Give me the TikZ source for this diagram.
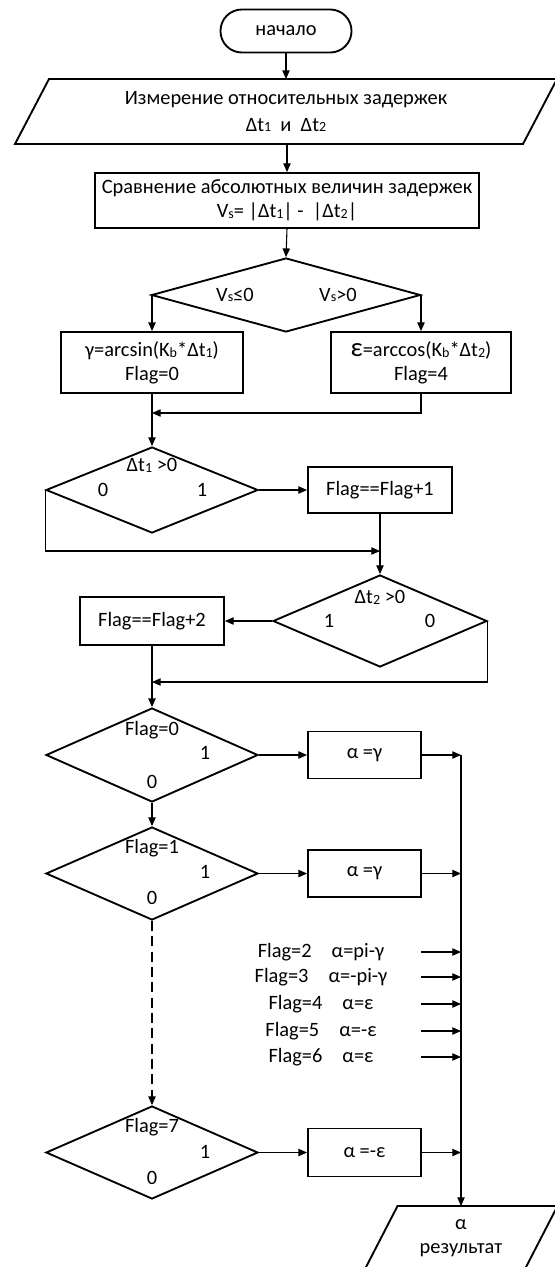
\documentclass[tikz,border=0pt]{standalone}
\usepackage{fontspec}
\setmainfont{Carlito}
\usetikzlibrary{arrows.meta,shapes.geometric,calc}

% small lowered index letters (t1, Vs, Kb)
\newcommand\sbs[1]{\raisebox{-0.6pt}{\fontsize{10.5}{10.5}\selectfont #1}}
% enlarged epsilon used in the arccos box
\newcommand\epsbig{{\fontsize{20}{20}\selectfont ε}}

\begin{document}
\begin{tikzpicture}[x=0.75pt,y=-0.75pt,
  font=\fontsize{15.3}{18}\selectfont,
  bw/.style={minimum width=#1*0.75pt},
  bh/.style={minimum height=#1*0.75pt},
  shp/.style={draw, line width=1.4pt},
  term/.style={shp, rectangle, rounded corners=16pt, inner sep=0pt},
  box/.style={shp, rectangle, inner sep=0pt, align=center},
  dia/.style={shp, diamond, inner sep=0pt},
  paratext/.style={rectangle, inner sep=0pt, outer sep=0pt, align=center},
  lbl/.style={inner sep=1pt},
  con/.style={line width=0.8pt},
  arr/.style={con, -{Triangle[length=6.5pt,width=5.5pt]}}]

\useasboundingbox (0,0) rectangle (555,1267);
\clip (0,0) rectangle (555,1267);

% start
\node[term, bw=131, bh=43] (start) at (286,31) {начало};

% input of delays
\node[paratext, bw=508, bh=65, font=\fontsize{15.3}{20.25}\selectfont] (inp) at (286,111.5)
  {Измерение относительных задержек\\Δt\sbs{1}\ \ и\ \ Δt\sbs{2}};
\draw[shp] ($(inp.south west)+(-17,0)$) -- ($(inp.north west)+(17,0)$)
  -- ($(inp.north east)+(17,0)$) -- ($(inp.south east)+(-17,0)$) -- cycle;

% comparison
\node[box, bw=384, bh=55] (cmp) at (287,200.5)
  {Сравнение абсолютных величин задержек\\V\sbs{s}= |Δt\sbs{1}| -\ \ |Δt\sbs{2}|};

\node[dia, bw=269, bh=74] (d1) at (286,295) {};
\node[lbl] (d1l) at (235,295) {V\sbs{s}≤0};
\node[lbl] (d1r) at (338,295) {V\sbs{s}>0};

\node[box, bw=182, bh=61] (gam) at (152,362.5) {γ=arcsin(K\sbs{b}*Δt\sbs{1})\\Flag=0};
\node[box, bw=180, bh=61] (eps) at (421,362.5) {\epsbig=arccos(K\sbs{b}*Δt\sbs{2})\\Flag=4};

\coordinate (m1) at (152,413);

% sign of the first delay
\node[dia, bw=212, bh=86] (d2) at (152,490) {};
\node[lbl] (d2c) at (152,465) {Δt\sbs{1} >0};
\node[lbl] (d2n) at (103,490) {0};
\node[lbl] (d2y) at (202,490) {1};
\node[box, bw=144, bh=46] (f1) at (380,490) {Flag==Flag+1};
\coordinate (m2) at (380,551);

% sign of the second delay
\node[dia, bw=214, bh=92] (d3) at (380,621) {};
\node[lbl] (d3c) at (380,597) {Δt\sbs{2} >0};
\node[lbl] (d3y) at (329,621) {1};
\node[lbl] (d3n) at (430,621) {0};
\node[box, bw=144, bh=48] (f2) at (152,621) {Flag==Flag+2};
\coordinate (m3) at (152,682);

% selection by flag
\node[dia, bw=212, bh=94] (d4) at (152,755) {};
\node[lbl] (d4c) at (152,730) {Flag=0};
\node[lbl] (d4y) at (205,753) {1};
\node[lbl] (d4n) at (152,782) {0};
\node[box, bw=113, bh=47] (a1) at (364.5,755) {α =γ};
\coordinate (j1) at (461,755);

\node[dia, bw=212, bh=93] (d5) at (152,873.5) {};
\node[lbl] (d5c) at (152,848) {Flag=1};
\node[lbl] (d5y) at (205,872) {1};
\node[lbl] (d5n) at (152,898) {0};
\node[box, bw=113, bh=47] (a2) at (364.5,873.5) {α =γ};
\coordinate (j2) at (461,873.5);

\node[dia, bw=212, bh=93] (d6) at (152,1152.5) {};
\node[lbl] (d6c) at (152,1127) {Flag=7};
\node[lbl] (d6y) at (205,1152) {1};
\node[lbl] (d6n) at (152,1178) {0};
\node[box, bw=113, bh=48] (a3) at (364.5,1152.5) {α =-ε};
\coordinate (j3) at (461,1152.5);

% remaining flag cases
\foreach \n/\yy/\txt in {2/952/{Flag=2\hspace{15pt}α=pi-γ},
                         3/977/{Flag=3\hspace{15pt}α=-pi-γ},
                         4/1004/{Flag=4\hspace{15pt}α=ε},
                         5/1031/{Flag=5\hspace{15pt}α=-ε},
                         6/1057/{Flag=6\hspace{15pt}α=ε}}{
  \node[lbl] (row\n) at (321,\yy) {\txt};
  \coordinate (row\n a) at (421,\yy);
  \coordinate (row\n b) at (461,\yy);
  \draw[arr] (row\n a) -- (row\n b);
}

% result output
\node[paratext, bw=160, bh=64] (res) at (461,1238) {α\\результат};
\draw[shp] ($(res.south west)+(-16.5,0)$) -- ($(res.north west)+(16.5,0)$)
  -- ($(res.north east)+(16.5,0)$) -- ($(res.south east)+(-16.5,0)$) -- cycle;

% connectors
\draw[arr] (start) -- (inp.north);
\draw[arr] (inp.south -| cmp.north) -- (cmp.north);
\draw[arr] (cmp.south) -- (d1.north);
\draw[arr] (gam.north |- d1.west) -- (gam.north);
\draw[arr] (eps.north |- d1.east) -- (eps.north);
\draw[arr] (eps.south) |- (m1);
\draw[arr] (gam.south) -- (d2.north);
\draw[arr] (d2.east) -- (f1.west);
\draw[arr] (d2.west) |- (m2);
\draw[arr] (f1.south) -- (d3.north);
\draw[arr] (d3.west) -- (f2.east);
\draw[arr] (d3.east) |- (m3);
\draw[arr] (f2.south) -- (d4.north);
\draw[arr] (d4.east) -- (a1.west);
\draw[arr] (a1.east) -- (j1);
\draw[arr] (d4.south) -- (d5.north);
\draw[arr] (d5.east) -- (a2.west);
\draw[arr] (a2.east) -- (j2);
\draw[arr, dash pattern=on 7.5pt off 4pt] (d5.south) -- (d6.north);
\draw[arr] (d6.east) -- (a3.west);
\draw[arr] (a3.east) -- (j3);
\draw[arr] (j1) -- (res.north);

\end{tikzpicture}
\end{document}
